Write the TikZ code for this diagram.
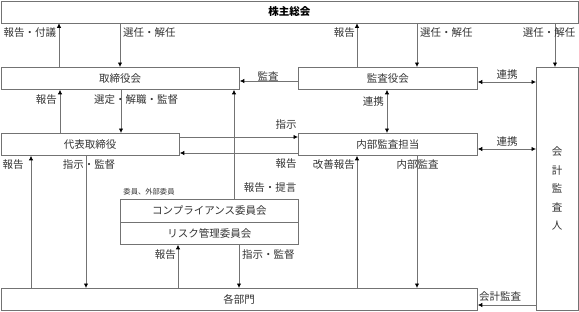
\documentclass[tikz,border=0pt]{standalone}
\usepackage{fontspec}
\setmainfont{Noto Sans CJK JP}
\usetikzlibrary{arrows.meta}
\begin{document}
\begin{tikzpicture}[x=1pt,y=-1pt,
  box/.style={draw=black!55, line width=0.8pt, inner sep=0pt, anchor=north west, text=black!80, font=\fontsize{10.5}{12}\selectfont},
  arr/.style={draw=black!55, line width=0.8pt, -{Latex[length=4.5pt,width=4.5pt,black]}},
  darr/.style={draw=black!55, line width=0.8pt, {Latex[length=4.5pt,width=4.5pt,black]}-{Latex[length=4.5pt,width=4.5pt,black]}},
  lbl/.style={inner sep=0pt, text=black!80, font=\fontsize{10.5}{12}\selectfont}]
\useasboundingbox (0,0) rectangle (579,311);
% boxes
\node[box, minimum width=577pt, minimum height=22pt, font=\fontsize{10.5}{12}\selectfont\bfseries, text=black] (sh) at (0.5,0.5) {株主総会};
\node[box, minimum width=238.5pt, minimum height=22pt] (tb) at (0.5,67) {取締役会};
\node[box, minimum width=178.5pt, minimum height=22pt] (ceo) at (0.5,133) {代表取締役};
\node[box, minimum width=179pt, minimum height=22pt] (ka) at (298,67) {監査役会};
\node[box, minimum width=179pt, minimum height=22pt] (ia) at (298,133) {内部監査担当};
\node[box, minimum width=41.5pt, minimum height=243pt, align=center, font=\fontsize{10.5}{18.5}\selectfont] (aud) at (536,67) {会\\計\\監\\査\\人};
\node[box, minimum width=178pt, minimum height=23pt] (cc) at (120,199) {コンプライアンス委員会};
\node[box, minimum width=178pt, minimum height=22pt] (rm) at (120,222) {リスク管理委員会};
\node[box, minimum width=476.5pt, minimum height=22pt] (bu) at (0.5,288) {各部門};
\node[lbl, font=\fontsize{7.3}{8}\selectfont] (cm) at (149,192) {委員、外部委員};
% connectors
\draw[arr] (tb.north -| 59,0) -- (sh.south -| 59,0);
\node[lbl] (l1) at (30,33) {報告・付議};
\draw[arr] (sh.south -| 120,0) -- (tb.north -| 120,0);
\node[lbl, anchor=west] (l2) at (123,33) {選任・解任};
\draw[arr] (ka.west |- 0,81) -- (tb.east |- 0,81);
\node[lbl] (l3) at (268,76) {監査};
\draw[arr] (ka.north -| 357,0) -- (sh.south -| 357,0);
\node[lbl, anchor=east] (l4) at (355,33) {報告};
\draw[arr] (sh.south -| 417,0) -- (ka.north -| 417,0);
\node[lbl, anchor=west] (l5) at (420,33) {選任・解任};
\draw[arr] (sh.south -| 555,0) -- (aud.north -| 555,0);
\node[lbl] (l6) at (549,33) {選任・解任};
\draw[darr] (ka.east |- 0,82) -- (aud.west |- 0,82);
\node[lbl] (l7) at (507,75) {連携};
\draw[darr] (ka.south -| 387,0) -- (ia.north -| 387,0);
\node[lbl, anchor=east] (l8) at (384,102) {連携};
\draw[arr] (ceo.north -| 60,0) -- (tb.south -| 60,0);
\node[lbl, anchor=east] (l9) at (57,100) {報告};
\draw[arr] (tb.south -| 121,0) -- (ceo.north -| 121,0);
\node[lbl] (l10) at (136,100) {選定・解職・監督};
\draw[arr] (ceo.east |- 0,137) -- (ia.west |- 0,137);
\node[lbl] (l11) at (286,125) {指示};
\draw[arr] (ia.west |- 0,153) -- (ceo.east |- 0,153);
\node[lbl] (l12) at (286,164) {報告};
\draw[arr] (cc.north -| 234,0) -- (tb.south -| 234,0);
\node[lbl] (l13) at (270,188) {報告・提言};
\draw[arr] (bu.north -| 31,0) -- (ceo.south -| 31,0);
\node[lbl] (l14) at (13,165) {報告};
\draw[arr] (ceo.south -| 86,0) -- (bu.north -| 86,0);
\node[lbl] (l15) at (89,165) {指示・監督};
\draw[arr] (bu.north -| 178,0) -- (rm.south -| 178,0);
\node[lbl, anchor=east] (l16) at (176,255) {報告};
\draw[arr] (rm.south -| 239,0) -- (bu.north -| 239,0);
\node[lbl, anchor=west] (l17) at (242,255) {指示・監督};
\draw[arr] (bu.north -| 357,0) -- (ia.south -| 357,0);
\node[lbl, anchor=east] (l18) at (355,165) {改善報告};
\draw[arr] (ia.south -| 417,0) -- (bu.north -| 417,0);
\node[lbl] (l19) at (417.5,165) {内部監査};
\draw[arr] (aud.west |- 0,305) -- (bu.east |- 0,305);
\node[lbl] (l20) at (500,297) {会計監査};
\draw[darr] (ia.east |- 0,149) -- (aud.west |- 0,149);
\node[lbl] (l21) at (507,142) {連携};
\end{tikzpicture}
\end{document}
